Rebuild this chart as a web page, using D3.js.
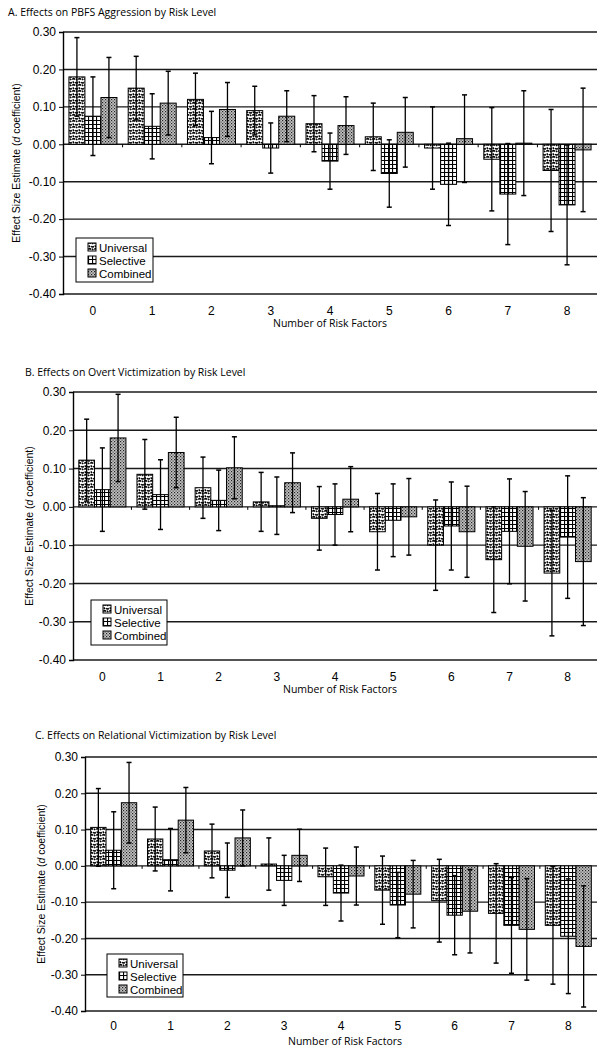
<!DOCTYPE html>
<html>
<head>
<meta charset="utf-8">
<script src="https://cdn.jsdelivr.net/npm/d3@7"></script>
<style>
  body { margin: 0; background: #fff; }
  svg { display: block; }
  .tick-lbl, .cat-lbl, .leg-lbl, .ylab { font-family: "Liberation Sans", Arial, sans-serif; fill: #000; }
  .title, .xlab { font-family: "Open Sans", "DejaVu Sans", sans-serif; fill: #000; }
</style>
</head>
<body>
<div id="chart"></div>
<script>
// risk factor categories and y ticks
var riskFactors = ["0", "1", "2", "3", "4", "5", "6", "7", "8"];
var yTicks = [0.30, 0.20, 0.10, 0.00, -0.10, -0.20, -0.30, -0.40];
var seriesNames = ["Universal", "Selective", "Combined"];

// A. PBFS Aggression: estimates and CI half-widths
var aggUniversal = [0.18, 0.15, 0.12, 0.09, 0.055, 0.02, -0.01, -0.04, -0.07];
var aggUniversalCI = [0.105, 0.085, 0.07, 0.065, 0.075, 0.09, 0.11, 0.138, 0.163];
var aggSelective = [0.075, 0.048, 0.018, -0.01, -0.045, -0.078, -0.107, -0.133, -0.162];
var aggSelectiveCI = [0.105, 0.087, 0.07, 0.067, 0.075, 0.09, 0.11, 0.135, 0.16];
var aggCombined = [0.125, 0.11, 0.093, 0.075, 0.05, 0.032, 0.015, 0.003, -0.015];
var aggCombinedCI = [0.107, 0.085, 0.072, 0.068, 0.077, 0.093, 0.117, 0.14, 0.165];

// B. Overt Victimization
var overtUniversal = [0.122, 0.085, 0.05, 0.013, -0.03, -0.065, -0.1, -0.138, -0.173];
var overtUniversalCI = [0.107, 0.091, 0.08, 0.077, 0.083, 0.1, 0.118, 0.138, 0.164];
var overtSelective = [0.045, 0.032, 0.017, 0.003, -0.02, -0.035, -0.05, -0.064, -0.079];
var overtSelectiveCI = [0.109, 0.091, 0.079, 0.075, 0.08, 0.095, 0.115, 0.137, 0.16];
var overtCombined = [0.18, 0.142, 0.102, 0.063, 0.02, -0.026, -0.065, -0.103, -0.143];
var overtCombinedCI = [0.114, 0.092, 0.081, 0.078, 0.085, 0.1, 0.119, 0.143, 0.167];

// C. Relational Victimization
var relUniversal = [0.106, 0.074, 0.041, 0.005, -0.03, -0.067, -0.096, -0.131, -0.164];
var relUniversalCI = [0.107, 0.088, 0.074, 0.072, 0.079, 0.094, 0.114, 0.137, 0.162];
var relSelective = [0.043, 0.017, -0.012, -0.04, -0.075, -0.108, -0.136, -0.164, -0.194];
var relSelectiveCI = [0.106, 0.086, 0.075, 0.069, 0.077, 0.09, 0.109, 0.132, 0.158];
var relCombined = [0.174, 0.126, 0.077, 0.029, -0.028, -0.078, -0.125, -0.175, -0.222];
var relCombinedCI = [0.111, 0.09, 0.077, 0.072, 0.08, 0.093, 0.115, 0.14, 0.167];

var W = 615, H = 1050;
var svg = d3.select("#chart").append("svg").attr("width", W).attr("height", H);

// fill patterns that stand in for the printed textures
var defs = svg.append("defs");
var pu = defs.append("pattern").attr("id", "pat-univ")
  .attr("patternUnits", "userSpaceOnUse").attr("width", 6).attr("height", 6);
pu.append("rect").attr("width", 6).attr("height", 6).attr("fill", "#fff");
pu.append("path")
  .attr("d", "M0.3,1.4 q1.3,-1.5 2.7,0 M3.1,4.3 q1.4,1.4 2.8,0 M4.1,0.6 l1.1,1.6 M0.9,3.4 l0.9,1.9")
  .attr("stroke", "#000").attr("stroke-width", 1.5).attr("fill", "none");

var ps = defs.append("pattern").attr("id", "pat-sel")
  .attr("patternUnits", "userSpaceOnUse").attr("width", 4).attr("height", 4);
ps.append("rect").attr("width", 4).attr("height", 4).attr("fill", "#fff");
ps.append("path").attr("d", "M0,0.5 H4 M0.5,0 V4")
  .attr("stroke", "#000").attr("stroke-width", 1.2);

var pc = defs.append("pattern").attr("id", "pat-comb")
  .attr("patternUnits", "userSpaceOnUse").attr("width", 3).attr("height", 3);
pc.append("rect").attr("width", 3).attr("height", 3).attr("fill", "#c4c4c4");
pc.append("rect").attr("x", 0).attr("y", 0).attr("width", 1.2).attr("height", 1.2).attr("fill", "#222");
pc.append("rect").attr("x", 1.5).attr("y", 1.5).attr("width", 1.2).attr("height", 1.2).attr("fill", "#444");

var fills = ["url(#pat-univ)", "url(#pat-sel)", "url(#pat-comb)"];

var panels = [
  { title: "A. Effects on PBFS Aggression by Risk Level",
    means: [aggUniversal, aggSelective, aggCombined],
    cis: [aggUniversalCI, aggSelectiveCI, aggCombinedCI],
    titleX: 8, titleY: 16, left: 63, top: 32, right: 597, bottom: 294,
    yLabX: 20, catY: 315, xLabX: 330, xLabY: 327, leg: [76, 238, 77, 44] },
  { title: "B. Effects on Overt Victimization by Risk Level",
    means: [overtUniversal, overtSelective, overtCombined],
    cis: [overtUniversalCI, overtSelectiveCI, overtCombinedCI],
    titleX: 25, titleY: 376, left: 73, top: 392, right: 597, bottom: 660,
    yLabX: 33, catY: 681, xLabX: 340, xLabY: 693, leg: [91, 600, 76, 45] },
  { title: "C. Effects on Relational Victimization by Risk Level",
    means: [relUniversal, relSelective, relCombined],
    cis: [relUniversalCI, relSelectiveCI, relCombinedCI],
    titleX: 35, titleY: 739, left: 85, top: 757, right: 597, bottom: 1011,
    yLabX: 45, catY: 1030, xLabX: 345, xLabY: 1045, leg: [107, 954, 76, 43] }
];

panels.forEach(drawPanel);

function drawPanel(p) {
  var g = svg.append("g");

  var x = d3.scaleBand().domain(riskFactors).range([p.left, p.right])
    .paddingInner(0.19).paddingOuter(0.1);
  var xs = d3.scaleBand().domain(seriesNames).range([0, x.bandwidth()]);
  var y = d3.scaleLinear().domain([-0.40, 0.30]).range([p.bottom, p.top]);

  g.append("text").attr("class", "title")
    .attr("x", p.titleX).attr("y", p.titleY)
    .attr("font-size", 10.5)
    .text(p.title);

  // gridlines
  g.append("g").selectAll("line").data(yTicks).enter().append("line")
    .attr("x1", p.left).attr("x2", p.right)
    .attr("y1", function(d) { return y(d); })
    .attr("y2", function(d) { return y(d); })
    .attr("stroke", "#1a1a1a").attr("stroke-width", 1.4);

  // y axis
  var yAxis = d3.axisLeft(y).tickValues(yTicks).tickSize(4).tickPadding(3)
    .tickFormat(function(d) { return d.toFixed(2); });
  var ya = g.append("g").attr("transform", "translate(" + p.left + ",0)").call(yAxis);
  ya.select(".domain").attr("stroke", "#000").attr("stroke-width", 1.4);
  ya.selectAll(".tick line").attr("stroke", "#000");
  ya.selectAll(".tick text").attr("class", "tick-lbl").attr("font-size", 12)
    .attr("font-family", null).attr("fill", null);

  // bars
  var rows = [];
  riskFactors.forEach(function(rf, i) {
    seriesNames.forEach(function(s, j) {
      rows.push({ rf: rf, s: s, j: j, v: p.means[j][i], ci: p.cis[j][i] });
    });
  });

  g.append("g").selectAll("rect").data(rows).enter().append("rect")
    .attr("x", function(d) { return x(d.rf) + xs(d.s); })
    .attr("width", xs.bandwidth())
    .attr("y", function(d) { return y(Math.max(0, d.v)); })
    .attr("height", function(d) { return Math.max(1, Math.abs(y(d.v) - y(0))); })
    .attr("fill", function(d) { return fills[d.j]; })
    .attr("stroke", "#000").attr("stroke-width", 1);

  // category ticks on the zero line
  g.append("g").selectAll("line").data(riskFactors.slice(1)).enter().append("line")
    .attr("x1", function(d) { return x(d) - x.step() * x.paddingInner() / 2; })
    .attr("x2", function(d) { return x(d) - x.step() * x.paddingInner() / 2; })
    .attr("y1", y(0)).attr("y2", y(0) + 3)
    .attr("stroke", "#000");

  // error bars
  var eb = g.append("g").selectAll("g").data(rows).enter().append("g")
    .attr("transform", function(d) {
      return "translate(" + (x(d.rf) + xs(d.s) + xs.bandwidth() / 2) + ",0)";
    });
  eb.append("line")
    .attr("y1", function(d) { return y(d.v + d.ci); })
    .attr("y2", function(d) { return y(d.v - d.ci); })
    .attr("stroke", "#000").attr("stroke-width", 1.3);
  eb.append("line").attr("x1", -2.5).attr("x2", 2.5)
    .attr("y1", function(d) { return y(d.v + d.ci); })
    .attr("y2", function(d) { return y(d.v + d.ci); })
    .attr("stroke", "#000").attr("stroke-width", 1.5);
  eb.append("line").attr("x1", -2.5).attr("x2", 2.5)
    .attr("y1", function(d) { return y(d.v - d.ci); })
    .attr("y2", function(d) { return y(d.v - d.ci); })
    .attr("stroke", "#000").attr("stroke-width", 1.5);

  // category labels under the plot
  g.append("g").selectAll("text").data(riskFactors).enter().append("text")
    .attr("class", "cat-lbl").attr("font-size", 12)
    .attr("text-anchor", "middle")
    .attr("x", function(d) { return x(d) + x.bandwidth() / 2; })
    .attr("y", p.catY)
    .text(function(d) { return d; });

  g.append("text").attr("class", "xlab").attr("font-size", 10.5)
    .attr("text-anchor", "middle").attr("x", p.xLabX).attr("y", p.xLabY)
    .text("Number of Risk Factors");

  // rotated y label
  var yl = g.append("text").attr("class", "ylab").attr("font-size", 10.5)
    .attr("text-anchor", "middle")
    .attr("transform", "translate(" + p.yLabX + "," + ((p.top + p.bottom) / 2) + ") rotate(-90)");
  yl.append("tspan").text("Effect Size Estimate (");
  yl.append("tspan").attr("font-style", "italic").text("d");
  yl.append("tspan").text(" coefficient)");

  // legend
  var L = p.leg;
  var lg = g.append("g").attr("transform", "translate(" + L[0] + "," + L[1] + ")");
  lg.append("rect").attr("width", L[2]).attr("height", L[3])
    .attr("fill", "#fff").attr("stroke", "#000").attr("stroke-width", 1);
  var li = lg.selectAll("g").data(seriesNames).enter().append("g")
    .attr("transform", function(d, i) { return "translate(12," + (4 + i * 13) + ")"; });
  li.append("rect").attr("width", 8).attr("height", 8).attr("y", 1)
    .attr("fill", function(d, i) { return fills[i]; })
    .attr("stroke", "#000").attr("stroke-width", 1);
  li.append("text").attr("class", "leg-lbl").attr("font-size", 11.5)
    .attr("x", 11).attr("y", 9.5)
    .text(function(d) { return d; });
}
</script>
</body>
</html>
